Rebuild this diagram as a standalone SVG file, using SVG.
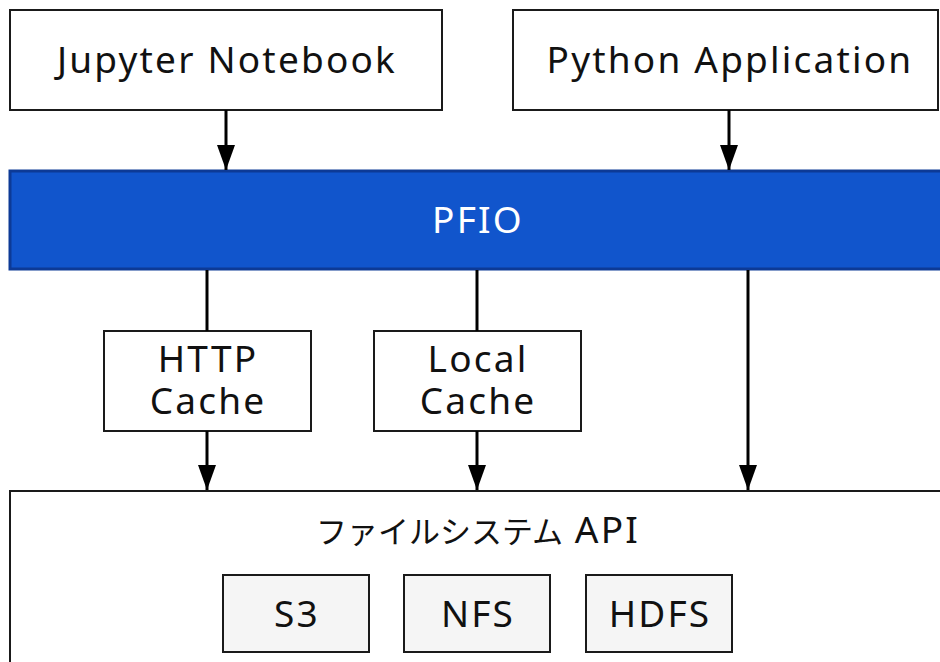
<svg xmlns="http://www.w3.org/2000/svg" width="940" height="662" viewBox="0 0 940 662">
<defs>
<style>
.box{fill:#ffffff;stroke:#1a1a1a;stroke-width:2}
.sub{fill:#f5f5f5;stroke:#1a1a1a;stroke-width:2}
.bar{fill:#1155cc;stroke:#0d3a96;stroke-width:3}
.t{font-family:"Noto Sans","Noto Sans CJK JP",sans-serif;font-size:37px;fill:#111;text-anchor:middle;letter-spacing:2.2px}
.j{font-family:"Noto Sans CJK JP",sans-serif;font-size:31px;letter-spacing:0}
.w{fill:#ffffff}
.c{stroke:#000;stroke-width:3;fill:none}
</style>
<marker id="ah" markerUnits="userSpaceOnUse" markerWidth="26" markerHeight="20" refX="25" refY="9" orient="auto">
<path d="M0,0 L25,9 L0,18 z" fill="#000"/>
</marker>
</defs>
<rect width="940" height="662" fill="#ffffff"/>
<g id="jupyter">
<rect class="box" x="10" y="10" width="432" height="100"/>
<text class="t" x="227" y="73">Jupyter Notebook</text>
</g>
<g id="python">
<rect class="box" x="513" y="10" width="425" height="100"/>
<text class="t" x="730" y="73">Python Application</text>
</g>
<g id="pfio">
<rect class="bar" x="10" y="171" width="940" height="98"/>
<text class="t w" x="478" y="233">PFIO</text>
</g>
<g id="http-cache">
<rect class="box" x="104" y="331" width="207" height="100"/>
<text class="t"><tspan x="208" y="372">HTTP</tspan><tspan x="208" y="414">Cache</tspan></text>
</g>
<g id="local-cache">
<rect class="box" x="374" y="331" width="207" height="100"/>
<text class="t"><tspan x="478" y="372">Local</tspan><tspan x="478" y="414">Cache</tspan></text>
</g>
<g id="filesystem">
<rect class="box" x="10" y="491" width="940" height="200"/>
<text class="t" x="478" y="543"><tspan class="j">ファイルシステム</tspan> API</text>
</g>
<g id="s3">
<rect class="sub" x="223" y="575" width="146" height="77"/>
<text class="t" x="297" y="627">S3</text>
</g>
<g id="nfs">
<rect class="sub" x="404" y="575" width="146" height="77"/>
<text class="t" x="478" y="627">NFS</text>
</g>
<g id="hdfs">
<rect class="sub" x="586" y="575" width="146" height="77"/>
<text class="t" x="660" y="627">HDFS</text>
</g>
<g id="connectors">
<line class="c" x1="226" y1="110" x2="226" y2="170" marker-end="url(#ah)"/>
<line class="c" x1="729" y1="110" x2="729" y2="170" marker-end="url(#ah)"/>
<line class="c" x1="207" y1="270" x2="207" y2="331"/>
<line class="c" x1="207" y1="431" x2="207" y2="490" marker-end="url(#ah)"/>
<line class="c" x1="477" y1="270" x2="477" y2="331"/>
<line class="c" x1="477" y1="431" x2="477" y2="490" marker-end="url(#ah)"/>
<line class="c" x1="748" y1="270" x2="748" y2="490" marker-end="url(#ah)"/>
</g>
</svg>
